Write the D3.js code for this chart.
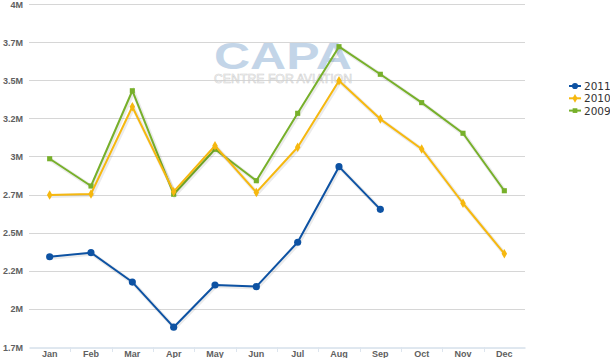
<!DOCTYPE html>
<html><head><meta charset="utf-8">
<script src="https://cdn.jsdelivr.net/npm/d3@7"></script>
<style>body{margin:0;background:#fff}svg{display:block}</style>
</head><body>
<svg id="c" width="610" height="358"></svg>
<script>
const months = ["Jan","Feb","Mar","Apr","May","Jun","Jul","Aug","Sep","Oct","Nov","Dec"];
const s2011 = [2.342,2.369,2.176,1.88,2.157,2.146,2.437,2.933,2.653,null,null,null];
const s2010 = [2.747,2.754,3.326,2.769,3.07,2.764,3.06,3.497,3.245,3.049,2.693,2.362];
const s2009 = [2.985,2.806,3.431,2.752,3.047,2.841,3.283,3.72,3.539,3.353,3.152,2.775];
const tickValues = [1.75,2,2.25,2.5,2.75,3,3.25,3.5,3.75,4];
const tickLabels = ["1.7M","2M","2.2M","2.5M","2.7M","3M","3.2M","3.5M","3.7M","4M"];
const seriesNames = ["2011","2010","2009"];
const colors = ["#0d52a3","#f6b80f","#77b02a"];
const shapes = [d3.symbolCircle, d3.symbolDiamond, d3.symbolSquare];

const svg = d3.select("#c");
const L = 29, R = 525, T = 4, B = 347;
const x = d3.scaleBand().domain(months).range([L, R]);
const y = d3.scaleLinear().domain([1.75, 4]).range([B, T]);
const font = "'Liberation Sans', Arial, sans-serif";

// grid
svg.append("g").selectAll("line").data(tickValues.slice(1)).join("line")
  .attr("x1", L).attr("x2", R).attr("y1", d => Math.round(y(d)) + 0.5).attr("y2", d => Math.round(y(d)) + 0.5)
  .attr("stroke", "#d6d6d6").attr("stroke-width", 1);

// y labels
svg.append("g").selectAll("text").data(tickValues).join("text")
  .attr("x", 23).attr("y", d => y(d) + 3.5).attr("text-anchor", "end")
  .attr("font-family", font).attr("font-size", 9).attr("font-weight", "bold").attr("fill", "#606060")
  .text((d, i) => tickLabels[i]);

// watermark
const wm = svg.append("g");
wm.append("text").attr("x", 214).attr("y", 69).attr("font-family", font).attr("font-weight", "bold")
  .attr("font-size", 36).attr("textLength", 138).attr("lengthAdjust", "spacingAndGlyphs")
  .attr("fill", "#c3d5e8").text("CAPA");
wm.append("text").attr("x", 214).attr("y", 83).attr("font-family", font)
  .attr("font-size", 12.5).attr("textLength", 138).attr("lengthAdjust", "spacingAndGlyphs")
  .attr("fill", "none").attr("stroke", "#d0d0d0").attr("stroke-width", 0.6).text("CENTRE FOR AVIATION");

// x axis
const xa = svg.append("g").attr("transform", `translate(0,${B + 0.5})`)
  .call(d3.axisBottom(x).tickSize(0).tickPadding(3));
xa.select(".domain").attr("stroke", "#c0d0e0").attr("stroke-width", 1);
xa.selectAll("text").attr("font-family", font).attr("font-size", 9).attr("font-weight", "bold").attr("fill", "#606060");
svg.append("g").selectAll("line").data(months.slice(1)).join("line")
  .attr("x1", d => Math.round(x(d)) + 0.5).attr("x2", d => Math.round(x(d)) + 0.5)
  .attr("y1", B).attr("y2", B + 5).attr("stroke", "#dde5ee");

// series
const all = [s2011, s2010, s2009];
const line = d3.line().defined(d => d.v != null).x(d => x(d.m) + x.bandwidth() / 2).y(d => y(d.v));
const drawOrder = [2, 1, 0];
drawOrder.forEach(i => {
  const data = months.map((m, j) => ({m, v: all[i][j]}));
  svg.append("path").datum(data).attr("d", line).attr("fill", "none")
    .attr("stroke", "#000").attr("stroke-opacity", 0.08).attr("stroke-width", 4)
    .attr("transform", "translate(1,1)");
  svg.append("path").datum(data).attr("d", line).attr("fill", "none")
    .attr("stroke", colors[i]).attr("stroke-width", 2).attr("stroke-linejoin", "round");
  svg.append("g").selectAll("path").data(data.filter(d => d.v != null)).join("path")
    .attr("transform", d => `translate(${x(d.m) + x.bandwidth() / 2},${y(d.v)})`)
    .attr("d", d3.symbol().type(shapes[i]).size(i === 0 ? 40 : 26))
    .attr("fill", colors[i]);
});

// legend
const lg = svg.append("g");
seriesNames.forEach((n, i) => {
  const yy = 86 + i * 12.3;
  lg.append("line").attr("x1", 569).attr("x2", 581).attr("y1", yy).attr("y2", yy)
    .attr("stroke", colors[i]).attr("stroke-width", 2);
  lg.append("path").attr("transform", `translate(575,${yy})`)
    .attr("d", d3.symbol().type(shapes[i]).size(i === 0 ? 30 : 22)).attr("fill", colors[i]);
  lg.append("text").attr("x", 584).attr("y", yy + 4).attr("font-family", "'DejaVu Sans', sans-serif")
    .attr("font-size", 10.5).attr("fill", "#333").text(n);
});
</script>
</body></html>
